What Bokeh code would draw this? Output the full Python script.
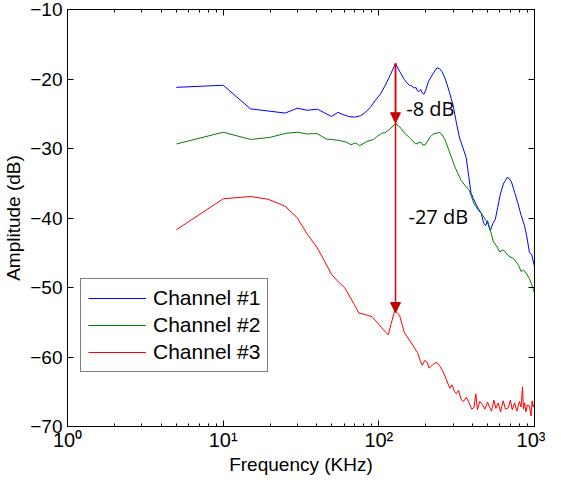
from bokeh.plotting import figure
from bokeh.models import (LogAxis, LinearAxis, Arrow, NormalHead, Legend, LegendItem,
                          FixedTicker, LogTicker, Label)
from bokeh.embed import file_html
from bokeh.resources import INLINE

# ---------------- data ----------------
f1 = [5.0, 10.0, 15.0, 25.0, 30.0, 34.6, 40.4, 45, 49.6, 54.6, 58.7, 64, 69.5, 76, 82, 88, 94.8,
      102, 109.5, 118, 128, 136, 146, 152, 157, 163, 168.7, 173, 177, 181, 185.7, 190, 194.7,
      200, 209, 222, 236, 245, 253.7, 263, 272.7, 285, 300, 315, 330, 346, 364, 378, 391, 405,
      420, 440, 455, 470, 485, 500, 510, 521, 540, 560, 580, 600, 631, 650, 671, 690, 711, 745,
      783, 820, 862, 890, 927, 960, 1000]
a1 = [-21.2, -20.9, -24.3, -24.9, -24.2, -24.5, -24.35, -24.9, -25.4, -24.8, -25.1, -25.4, -25.5,
      -25.3, -24.8, -24.1, -23.1, -22.2, -21.0, -19.5, -17.75, -18.9, -20.1, -20.6, -20.9, -21.0,
      -21.3, -21.2, -21.7, -21.8, -21.5, -22.0, -22.2, -21.6, -20.3, -19.3, -18.4, -18.5, -18.9,
      -19.6, -20.6, -22.0, -23.8, -26.3, -28.5, -29.8, -31.3, -34.0, -36.4, -37.2, -38.0, -38.8,
      -39.3, -40.7, -41.1, -40.4, -41.3, -41.8, -40.8, -40.2, -38.5, -36.8, -35.1, -34.6, -34.1,
      -34.4, -34.8, -36.3, -37.9, -39.6, -41.1, -42.5, -44.9, -45.3, -47.0]

f2 = [5.0, 10.0, 15.0, 20, 25.4, 30, 34.6, 40, 46.2, 54.6, 61.6, 66.1, 71.1, 75.3, 84.1, 92.6, 97,
      104.4, 110, 118, 128, 139, 146, 157, 165, 172, 185.7, 192, 199, 214, 225, 236, 245, 253.7,
      266, 278, 292, 306, 322, 338, 360, 380, 395, 408, 435, 462, 485, 511, 528, 545, 570, 598,
      620, 645, 670, 696, 730, 761, 790, 820, 850, 880, 927, 960, 1000]
a2 = [-29.35, -27.66, -28.7, -28.4, -27.8, -27.66, -27.9, -27.85, -28.65, -28.8, -29.07, -29.45,
      -29.2, -29.6, -28.97, -28.7, -28.3, -27.8, -27.7, -27.2, -26.4, -27.1, -27.8, -28.4, -28.9,
      -29.35, -29.07, -29.5, -29.45, -28.3, -27.9, -27.8, -27.7, -27.95, -28.75, -29.9, -31.2,
      -32.5, -33.6, -34.6, -35.4, -36.0, -37.0, -37.9, -38.9, -39.5, -40.3, -41.1, -42.3, -43.45,
      -44.0, -44.9, -44.6, -44.8, -45.3, -45.6, -45.8, -46.3, -46.8, -47.7, -47.5, -47.9, -48.7,
      -49.6, -50.8]

f3 = [5.0, 10.0, 15.0, 19.4, 25, 30, 34.6, 40, 45, 49.6, 55, 60.2, 67, 74.6, 82, 90.4, 100, 108,
      115, 120, 126.5, 135.9, 146, 160.8, 177, 185, 190, 197, 204.5, 210, 214, 225, 236, 248, 259,
      272, 286, 295, 306, 315, 325, 338, 350, 365, 380, 395, 408, 420, 430, 445, 462, 480, 500,
      511, 530, 548, 565, 585, 605, 630, 650, 679, 700, 720, 745, 770, 800, 820, 837, 850, 865,
      880, 900, 927, 950, 965, 980, 1000]
a3 = [-41.7, -37.24, -36.9, -37.3, -38.3, -40.0, -42.3, -44.2, -46.3, -48.1, -49.2, -50.0, -51.8,
      -53.7, -53.9, -54.2, -55.3, -56.2, -56.8, -55.2, -53.3, -54.0, -56.5, -57.9, -59.35, -60.6,
      -61.2, -60.5, -60.75, -61.6, -61.45, -61.0, -60.75, -61.4, -62.15, -63.3, -64.5, -64.0,
      -64.95, -65.3, -64.8, -66.1, -66.4, -65.8, -66.6, -67.5, -67.3, -65.3, -67.6, -66.4, -66.8,
      -67.5, -66.5, -67.05, -67.8, -66.2, -67.4, -66.6, -67.9, -66.3, -67.5, -67.3, -66.2, -67.6,
      -66.6, -67.8, -66.4, -67.2, -64.3, -67.5, -66.6, -67.9, -66.9, -67.05, -68.5, -66.3, -67.2,
      -66.6]

series_names = ["Channel #1", "Channel #2", "Channel #3"]
series_colors = ["#0000ff", "#008000", "#ff0000"]

x_ticks = [1, 10, 100, 1000]
x_tick_labels = ["10\u2070", "10\u00b9", "10\u00b2", "10\u00b3"]
y_ticks = [-70, -60, -50, -40, -30, -20, -10]
y_tick_labels = ["\u221270", "\u221260", "\u221250", "\u221240", "\u221230", "\u221220", "\u221210"]

arrow_freq = 128
arrow_start = -17.75
arrow_ends = [-26.3, -53.6]
note_texts = ["-8 dB", "-27 dB"]
note_freqs = [150, 155]
note_amps = [-24.3, -39.8]

# ---------------- figure ----------------
FONT = "Liberation Sans"
p = figure(width=545, height=477, x_axis_type="log", x_range=(1, 1000), y_range=(-70, -10),
           output_backend="svg", toolbar_location=None,
           min_border_left=66, min_border_right=11, min_border_top=9, min_border_bottom=46)
p.background_fill_color = "white"
p.border_fill_color = "white"
p.outline_line_color = "black"
p.outline_line_width = 1
p.xgrid.visible = False
p.ygrid.visible = False

renderers = []
for fx, ay, c in zip([f1, f2, f3], [a1, a2, a3], series_colors):
    renderers.append(p.line(fx, ay, line_color=c, line_width=1))

def style_axis(ax, size="19px"):
    ax.axis_line_color = "black"
    ax.major_tick_line_color = "black"
    ax.minor_tick_line_color = "black"
    ax.major_tick_in = 6
    ax.major_tick_out = 0
    ax.minor_tick_in = 3
    ax.minor_tick_out = 0
    ax.major_label_text_font = FONT
    ax.major_label_text_font_size = size
    ax.major_label_text_color = "black"
    ax.axis_label_text_font = FONT
    ax.axis_label_text_font_style = "normal"
    ax.axis_label_text_font_size = "19px"
    ax.axis_label_text_color = "black"

xa = p.xaxis[0]
xa.ticker = LogTicker(desired_num_ticks=4, num_minor_ticks=10)
xa.major_label_overrides = dict(zip(x_ticks, x_tick_labels))
xa.axis_label = "Frequency (KHz)"
style_axis(xa, "20px")
xa.major_label_standoff = 2
xa.axis_label_standoff = 0

ya = p.yaxis[0]
ya.ticker = FixedTicker(ticks=y_ticks)
ya.major_label_overrides = dict(zip(y_ticks, y_tick_labels))
ya.axis_label = "Amplitude (dB)"
style_axis(ya, "19px")
ya.minor_tick_line_color = None
ya.major_label_standoff = 5
ya.axis_label_standoff = 3

# box axes (ticks only, empty labels)
top = LogAxis(ticker=LogTicker(desired_num_ticks=4, num_minor_ticks=10))
style_axis(top)
top.major_label_overrides = {t: "" for t in x_ticks}
top.major_label_text_font_size = "1px"
top.major_label_standoff = 0
top.axis_label_standoff = 0
p.add_layout(top, "above")

right = LinearAxis(ticker=FixedTicker(ticks=y_ticks))
style_axis(right)
right.minor_tick_line_color = None
right.major_label_overrides = {t: "" for t in y_ticks}
right.major_label_text_font_size = "1px"
right.major_label_standoff = 0
right.axis_label_standoff = 0
p.add_layout(right, "right")

# arrows
for yend in arrow_ends:
    p.add_layout(Arrow(x_start=arrow_freq, y_start=arrow_start, x_end=arrow_freq, y_end=yend,
                       line_color="#e00000", line_width=1.5,
                       end=NormalHead(size=10, fill_color="#c00000", line_color="#c00000")))

for t, fx, ay in zip(note_texts, note_freqs, note_amps):
    p.add_layout(Label(x=fx, y=ay, text=t, text_font="Open Sans", text_font_size="20px",
                       text_color="black", text_baseline="middle", text_align="left"))

legend = Legend(items=[LegendItem(label=n, renderers=[r]) for n, r in zip(series_names, renderers)],
                location=(13, 54), label_text_font=FONT, label_text_font_size="21px",
                label_text_color="black", glyph_width=58, glyph_height=22, label_height=22,
                label_standoff=7, spacing=3, padding=7, margin=0,
                border_line_color="black", border_line_width=1,
                background_fill_color="white", background_fill_alpha=1)
p.add_layout(legend)

open("out.html", "w").write(file_html(p, INLINE))
